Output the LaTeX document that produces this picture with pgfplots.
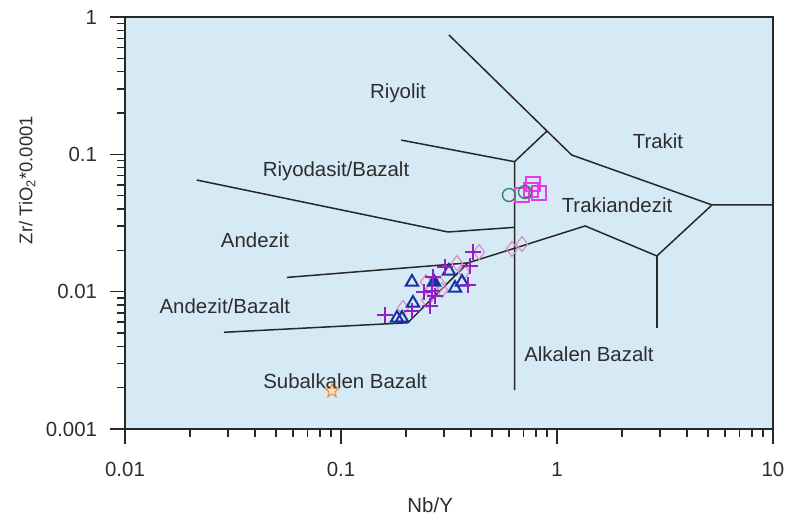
\documentclass[border=0pt]{standalone}
\usepackage{pgfplots}
\pgfplotsset{compat=1.18}
\usepackage{fontspec}
\setmainfont{Liberation Sans}
\definecolor{bg}{RGB}{214,234,245}
\definecolor{lin}{RGB}{40,40,40}
\definecolor{txt}{RGB}{45,45,45}
\definecolor{triblue}{RGB}{25,50,160}
\definecolor{plusc}{RGB}{150,30,200}
\definecolor{diac}{RGB}{215,140,180}
\definecolor{sqc}{RGB}{230,60,230}
\definecolor{circc}{RGB}{50,130,90}
\definecolor{starc}{RGB}{230,140,60}
\pgfdeclareplotmark{ostar}{%
  \pgfpathmoveto{\pgfpointpolar{90}{\pgfplotmarksize}}%
  \pgfpathlineto{\pgfpointpolar{126}{0.42\pgfplotmarksize}}%
  \pgfpathlineto{\pgfpointpolar{162}{\pgfplotmarksize}}%
  \pgfpathlineto{\pgfpointpolar{198}{0.42\pgfplotmarksize}}%
  \pgfpathlineto{\pgfpointpolar{234}{\pgfplotmarksize}}%
  \pgfpathlineto{\pgfpointpolar{270}{0.42\pgfplotmarksize}}%
  \pgfpathlineto{\pgfpointpolar{306}{\pgfplotmarksize}}%
  \pgfpathlineto{\pgfpointpolar{342}{0.42\pgfplotmarksize}}%
  \pgfpathlineto{\pgfpointpolar{18}{\pgfplotmarksize}}%
  \pgfpathlineto{\pgfpointpolar{54}{0.42\pgfplotmarksize}}%
  \pgfpathclose
  \pgfusepathqfillstroke
}
\begin{document}
\fontsize{20.5}{24}\selectfont
\begin{tikzpicture}
\begin{axis}[
  at={(125bp,93bp)}, anchor=south west,
  scale only axis, width=648bp, height=412bp,
  xmode=log, ymode=log,
  xmin=0.01, xmax=10, ymin=0.001, ymax=1,
  axis background/.style={fill=bg},
  axis line style={line width=1.8bp, lin},
  tick align=outside,
  xtick pos=bottom, ytick pos=left,
  tick style={lin, line width=1.4bp},
  major tick length=15bp, minor tick length=8bp,
  xtick={0.01,0.1,1,10}, xticklabels={0.01,0.1,1,10},
  ytick={0.001,0.01,0.1,1}, yticklabels={0.001,0.01,0.1,1},
  minor xtick={0.02,0.03,0.04,0.05,0.06,0.07,0.08,0.09,0.2,0.3,0.4,0.5,0.6,0.7,0.8,0.9,2,3,4,5,6,7,8,9},
  minor ytick={0.002,0.003,0.004,0.005,0.006,0.007,0.008,0.009,0.02,0.03,0.04,0.05,0.06,0.07,0.08,0.09,0.2,0.3,0.4,0.5,0.6,0.7,0.8,0.9},
  xticklabel style={text=txt, inner xsep=0pt, yshift=-11bp},
  yticklabel style={text=txt, inner ysep=0pt, xshift=-6bp},
  xlabel={Nb/Y},
  xlabel style={at={(rel axis cs:0.471,-0.1845)}, anchor=center, text=txt},
  ylabel={Zr/ TiO\textsubscript{2}*0.0001},
  ylabel style={at={(rel axis cs:-0.151,0.604)}, anchor=center, text=txt, font=\fontsize{18.5}{22}\selectfont},
]
% field boundaries
\addplot[lin, line width=1.5bp] coordinates {(0.316,0.740) (0.899,0.1479) (1.17,0.0989) (5.22,0.0428) (10,0.0428)};
\addplot[lin, line width=1.5bp] coordinates {(0.899,0.1479) (0.636,0.0884)};
\addplot[lin, line width=1.5bp] coordinates {(0.190,0.127) (0.636,0.0884) (0.636,0.00192)};
\addplot[lin, line width=1.5bp] coordinates {(0.0215,0.065) (0.313,0.0272) (0.636,0.0294)};
\addplot[lin, line width=1.5bp] coordinates {(0.0562,0.0127) (0.387,0.0162) (0.636,0.0207) (1.35,0.0301) (2.90,0.0182) (5.22,0.0428)};
\addplot[lin, line width=1.5bp] coordinates {(2.90,0.0182) (2.90,0.0054)};
\addplot[lin, line width=1.5bp] coordinates {(0.0287,0.00506) (0.204,0.00594) (0.387,0.0162)};
% data
\addplot[only marks, mark=diamond, mark size=7.5bp, draw=diac, line width=1.1bp] coordinates {
(0.1936,0.007603) (0.2474,0.01176) (0.2501,0.008696) (0.2935,0.01028) (0.2872,0.01137)
(0.3444,0.01617) (0.3710,0.01390) (0.4355,0.01944) (0.6189,0.02045) (0.6886,0.02223)};
\addplot[only marks, mark=triangle, mark size=7bp, draw=triblue, line width=2bp] coordinates {
(0.1816,0.00643) (0.1916,0.00643) (0.2154,0.00827) (0.2131,0.01176)
(0.3162,0.01414) (0.3372,0.01063) (0.3633,0.01176)};
\addplot[only marks, mark=triangle*, mark size=7bp, draw=triblue, fill=triblue, line width=2bp] coordinates {
(0.2696,0.01176)};
\addplot[only marks, mark=+, mark size=8bp, draw=plusc, line width=1.6bp] coordinates {
(0.1599,0.006762) (0.2131,0.00723) (0.2582,0.007862) (0.2638,0.01011) (0.2667,0.01279)
(0.3030,0.01512) (0.3956,0.01538) (0.4085,0.01944) (0.3873,0.01118) (0.2724,0.009298) (0.2423,0.00994)};
\addplot[only marks, mark=square, mark size=7bp, draw=sqc, line width=1.3bp] coordinates {
(0.7743,0.06081) (0.8254,0.05229) (0.6886,0.05057) (0.7579,0.05499)};
\addplot[only marks, mark=o, mark size=6.5bp, draw=circc, line width=1.3bp] coordinates {
(0.5995,0.05057) (0.7110,0.05317)};
\addplot[only marks, mark=ostar, mark size=7bp, draw=starc, fill=starc!25, line width=1bp] coordinates {
(0.09085,0.001891)};
% labels
\node[text=txt] at (axis cs:0.1837,0.2797) {Riyolit};
\node[text=txt] at (axis cs:0.0948,0.0756) {Riyodasit/Bazalt};
\node[text=txt] at (axis cs:2.935,0.125) {Trakit};
\node[text=txt] at (axis cs:1.896,0.0428) {Trakiandezit};
\node[text=txt] at (axis cs:0.040,0.0238) {Andezit};
\node[text=txt] at (axis cs:0.0290,0.00786) {Andezit/Bazalt};
\node[text=txt] at (axis cs:0.1044,0.00223) {Subalkalen Bazalt};
\node[text=txt] at (axis cs:1.406,0.00352) {Alkalen Bazalt};
\end{axis}
\path (0,0) rectangle (786bp,522bp);
\end{tikzpicture}
\end{document}
